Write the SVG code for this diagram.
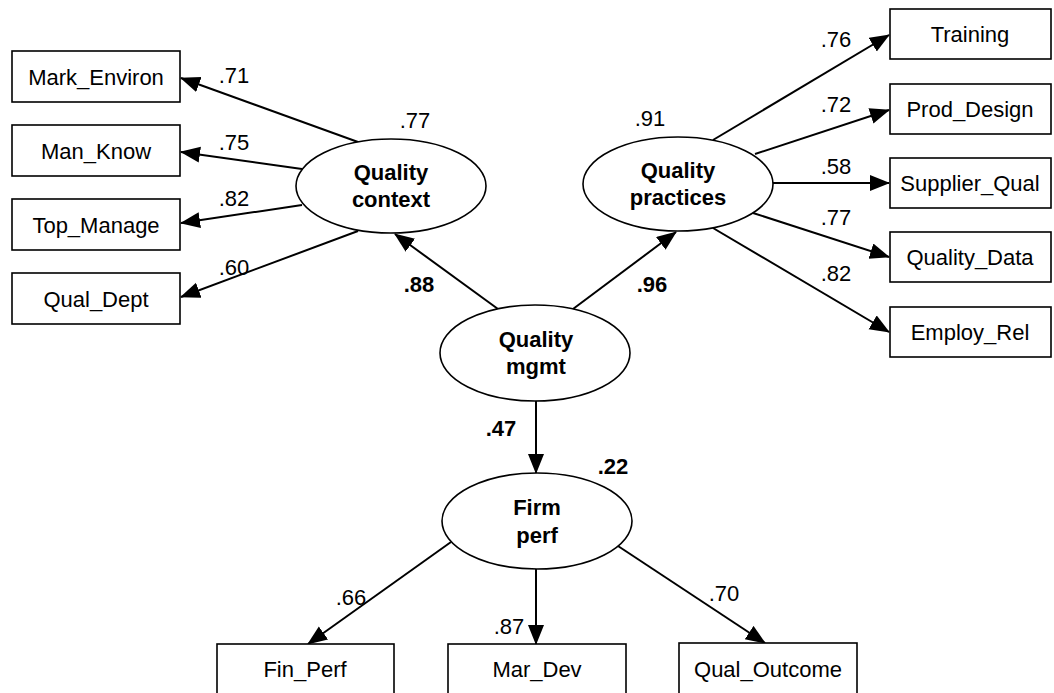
<svg xmlns="http://www.w3.org/2000/svg" width="1054" height="693" viewBox="0 0 1054 693">
<style>
.box{fill:#fff;stroke:#000;stroke-width:1.6}
.ell{fill:#fff;stroke:#000;stroke-width:1.6}
.t{font-family:"Liberation Sans",Arial,sans-serif;font-size:22px;fill:#000;text-anchor:middle;dominant-baseline:central}
.lt{font-family:"Liberation Sans",Arial,sans-serif;font-size:22px;font-weight:bold;fill:#000;text-anchor:middle;dominant-baseline:central}
.n{font-family:"Liberation Sans",Arial,sans-serif;font-size:22px;fill:#000;text-anchor:middle;dominant-baseline:central}
.nb{font-family:"Liberation Sans",Arial,sans-serif;font-size:22px;font-weight:bold;fill:#000;text-anchor:middle;dominant-baseline:central}
.c{stroke:#000;stroke-width:2;fill:none;marker-end:url(#ah)}
</style>
<defs>
<marker id="ah" markerUnits="userSpaceOnUse" markerWidth="22" markerHeight="18" refX="19" refY="8" orient="auto">
<path d="M0,0 L20,8 L0,16 Z" fill="#000"/>
</marker>
</defs>
<rect width="1054" height="693" fill="#fff"/>
<g id="connectors">
<line class="c" x1="358" y1="142" x2="181" y2="78"/>
<line class="c" x1="302" y1="169" x2="181" y2="152"/>
<line class="c" x1="302" y1="205" x2="181" y2="223"/>
<line class="c" x1="358" y1="231" x2="181" y2="297"/>
<line class="c" x1="713" y1="140" x2="889" y2="35"/>
<line class="c" x1="755" y1="154" x2="889" y2="110"/>
<line class="c" x1="773" y1="183" x2="889" y2="183"/>
<line class="c" x1="753" y1="213" x2="889" y2="257"/>
<line class="c" x1="713" y1="228" x2="889" y2="332"/>
<line class="c" x1="498" y1="309" x2="395" y2="234"/>
<line class="c" x1="573" y1="309" x2="676" y2="232"/>
<line class="c" x1="536" y1="401" x2="536" y2="473"/>
<line class="c" x1="451" y1="542" x2="308" y2="644"/>
<line class="c" x1="536" y1="569" x2="536" y2="644"/>
<line class="c" x1="618" y1="546" x2="765" y2="643"/>
</g>
<g id="Mark_Environ"><rect class="box" x="12" y="51" width="168" height="51"/><text class="t" x="96" y="77">Mark_Environ</text></g>
<g id="Man_Know"><rect class="box" x="12" y="125" width="168" height="51"/><text class="t" x="96" y="151">Man_Know</text></g>
<g id="Top_Manage"><rect class="box" x="12" y="199" width="168" height="51"/><text class="t" x="96" y="225">Top_Manage</text></g>
<g id="Qual_Dept"><rect class="box" x="12" y="273" width="168" height="51"/><text class="t" x="96" y="299">Qual_Dept</text></g>
<g id="Training"><rect class="box" x="890" y="9" width="161" height="50"/><text class="t" x="970" y="34">Training</text></g>
<g id="Prod_Design"><rect class="box" x="890" y="84" width="161" height="50"/><text class="t" x="970" y="109">Prod_Design</text></g>
<g id="Supplier_Qual"><rect class="box" x="890" y="158" width="161" height="50"/><text class="t" x="970" y="183">Supplier_Qual</text></g>
<g id="Quality_Data"><rect class="box" x="890" y="232" width="161" height="50"/><text class="t" x="970" y="257">Quality_Data</text></g>
<g id="Employ_Rel"><rect class="box" x="890" y="307" width="161" height="50"/><text class="t" x="970" y="332">Employ_Rel</text></g>
<g id="Fin_Perf"><rect class="box" x="217" y="644" width="177" height="60"/><text class="t" x="305" y="669">Fin_Perf</text></g>
<g id="Mar_Dev"><rect class="box" x="448" y="644" width="178" height="60"/><text class="t" x="537" y="669">Mar_Dev</text></g>
<g id="Qual_Outcome"><rect class="box" x="679" y="643" width="178" height="61"/><text class="t" x="768" y="669">Qual_Outcome</text></g>
<g id="Quality_context"><ellipse class="ell" cx="391" cy="186" rx="95" ry="47"/><text class="lt" x="391" y="172">Quality</text><text class="lt" x="391" y="199">context</text></g>
<g id="Quality_practices"><ellipse class="ell" cx="678" cy="184" rx="95" ry="47"/><text class="lt" x="678" y="170">Quality</text><text class="lt" x="678" y="197">practices</text></g>
<g id="Quality_mgmt"><ellipse class="ell" cx="535" cy="353" rx="95" ry="48"/><text class="lt" x="536" y="339">Quality</text><text class="lt" x="536" y="366">mgmt</text></g>
<g id="Firm_perf"><ellipse class="ell" cx="537" cy="521" rx="95" ry="48"/><text class="lt" x="537" y="507">Firm</text><text class="lt" x="537" y="535">perf</text></g>
<g id="labels">
<text class="n" x="234" y="75">.71</text>
<text class="n" x="234" y="142">.75</text>
<text class="n" x="234" y="198">.82</text>
<text class="n" x="234" y="267">.60</text>
<text class="n" x="415" y="120">.77</text>
<text class="n" x="650" y="118">.91</text>
<text class="n" x="836" y="39">.76</text>
<text class="n" x="836" y="104">.72</text>
<text class="n" x="836" y="166">.58</text>
<text class="n" x="836" y="217">.77</text>
<text class="n" x="836" y="273">.82</text>
<text class="nb" x="419" y="284">.88</text>
<text class="nb" x="652" y="284">.96</text>
<text class="nb" x="501" y="428">.47</text>
<text class="nb" x="613" y="466">.22</text>
<text class="n" x="351" y="597">.66</text>
<text class="n" x="509" y="626">.87</text>
<text class="n" x="724" y="593">.70</text>
</g>
</svg>
